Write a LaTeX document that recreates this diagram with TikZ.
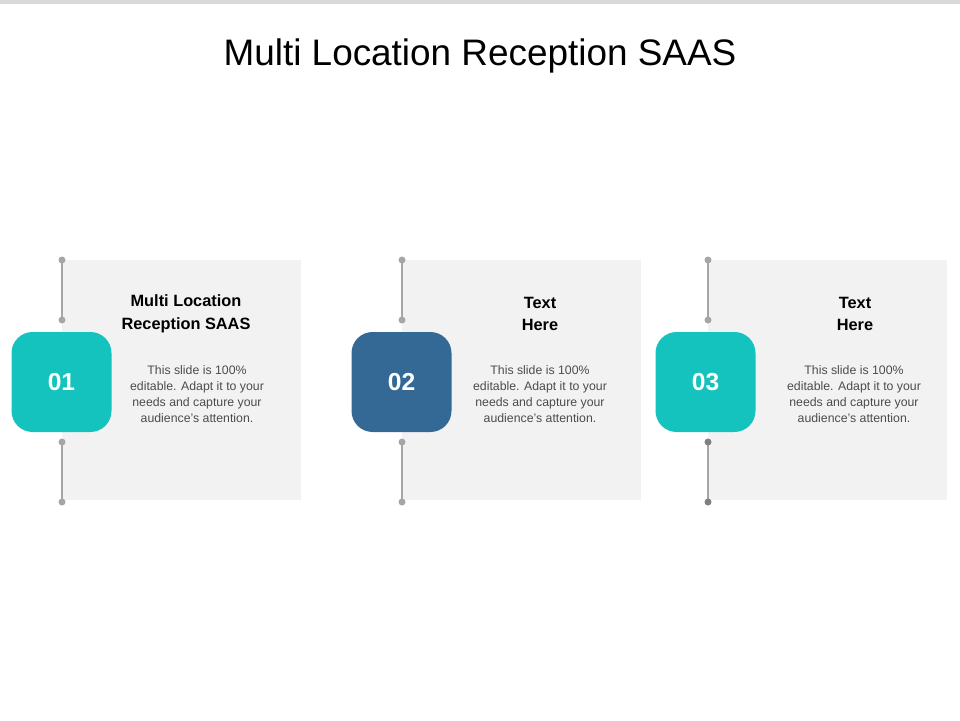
\documentclass[tikz,border=0pt]{standalone}
\usepackage{fontspec}
\setmainfont{Liberation Sans}
\usetikzlibrary{positioning}
\definecolor{tealbox}{RGB}{20,194,190}
\definecolor{bluebox}{RGB}{52,105,150}
\definecolor{panelgrey}{RGB}{242,242,242}
\definecolor{linegrey}{RGB}{166,166,166}
\begin{document}
\begin{tikzpicture}[x=0.02cm,y=-0.02cm,
  numbox/.style={rounded corners=12pt, minimum width=100*0.02cm, minimum height=100*0.02cm, inner sep=0pt, text=white, font=\fontsize{14}{16}\selectfont\bfseries},
  head/.style={align=center, font=\fontsize{9.3}{13}\selectfont\bfseries},
  body/.style={align=center, text=black!70, font=\fontsize{7}{9.2}\selectfont}]
 \useasboundingbox (0,0) rectangle (960,720);
 \fill[black!15] (0,0) rectangle (960,4);
 \node (title) at (480,56) {\fontsize{21}{24}\selectfont Multi Location Reception SAAS};

 \foreach \x/\bx/\c/\n/\h/\hx/\tx/\d in {62/61.5/tealbox/01/{Multi Location\\Reception SAAS}/186/197/linegrey,
                              402/401.5/bluebox/02/{Text\\Here}/540/540/linegrey,
                              708/705.5/tealbox/03/{Text\\Here}/855/854/black!50} {
   \fill[panelgrey] (\x,260) rectangle (\x+239,500);
   \draw[linegrey, thick] (\x,260) -- (\x,320);
   \draw[linegrey, thick] (\x,442) -- (\x,502);
   \foreach \y in {260,320} \fill[linegrey] (\x,\y) circle (3.5);
   \foreach \y in {442,502} \fill[\d] (\x,\y) circle (3.5);
   \node[numbox, fill=\c] (box\n) at (\bx,382) {\n};
   \node[head] (head\n) at (\hx,314) {\h};
   \node[body] (body\n) at (\tx,394) {This slide is 100\%\\editable. Adapt it to your\\needs and capture your\\audience's attention.};
 }
\end{tikzpicture}
\end{document}
